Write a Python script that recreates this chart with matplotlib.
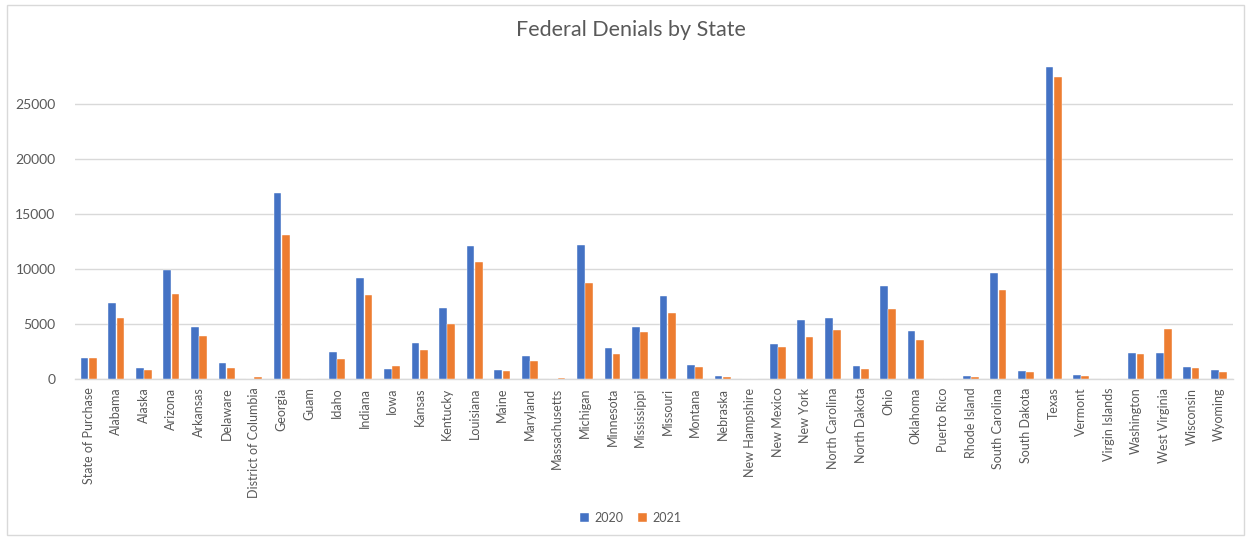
import matplotlib
matplotlib.use("Agg")
import matplotlib.pyplot as plt
import numpy as np
from matplotlib.patches import Rectangle

states = ["State of Purchase", "Alabama", "Alaska", "Arizona", "Arkansas", "Delaware",
          "District of Columbia", "Georgia", "Guam", "Idaho", "Indiana", "Iowa", "Kansas",
          "Kentucky", "Louisiana", "Maine", "Maryland", "Massachusetts", "Michigan",
          "Minnesota", "Mississippi", "Missouri", "Montana", "Nebraska", "New Hampshire",
          "New Mexico", "New York", "North Carolina", "North Dakota", "Ohio", "Oklahoma",
          "Puerto Rico", "Rhode Island", "South Carolina", "South Dakota", "Texas",
          "Vermont", "Virgin Islands", "Washington", "West Virginia", "Wisconsin", "Wyoming"]

y2020 = [1950, 6900, 1030, 9950, 4790, 1450, 0, 16930, 0, 2480, 9240, 940, 3270,
         6510, 12090, 850, 2150, 0, 12180, 2850, 4780, 7550, 1330, 330, 0,
         3180, 5390, 5600, 1240, 8450, 4390, 0, 330, 9640, 750, 28360,
         420, 0, 2360, 2360, 1150, 850]
y2021 = [1950, 5570, 850, 7730, 3970, 1030, 170, 13090, 0, 1850, 7640, 1240, 2660,
         5000, 10660, 750, 1660, 140, 8730, 2270, 4300, 6000, 1150, 240, 0,
         2960, 3870, 4480, 940, 6390, 3570, 0, 240, 8120, 640, 27450,
         330, 0, 2270, 4570, 1030, 640]

yticks = [0, 5000, 10000, 15000, 20000, 25000]
series_names = ["2020", "2021"]
colors = ["#4472C4", "#ED7D31"]

plt.rcParams['font.family'] = ['Lato', 'DejaVu Sans']

fig = plt.figure(figsize=(12.49, 5.38), dpi=100)
ax = fig.add_axes([0.060, 0.295, 0.927, 0.614])

x = np.arange(len(states))
w = 0.28
ax.bar(x - w/2 - 0.01, y2020, width=w, color=colors[0], edgecolor="white", linewidth=0.3,
       label=series_names[0], zorder=3)
ax.bar(x + w/2 + 0.01, y2021, width=w, color=colors[1], edgecolor="white", linewidth=0.3,
       label=series_names[1], zorder=3)

ax.set_xlim(-0.5, len(states) - 0.5)
ax.set_ylim(0, 30000)
ax.set_yticks(yticks)
ax.set_yticklabels([str(v) for v in yticks], fontsize=10, color="#595959")
ax.set_xticks(x)
ax.set_xticklabels(states, rotation=90, fontsize=9, color="#595959")
ax.tick_params(axis='both', length=0, pad=6)
ax.tick_params(axis='y', pad=14)
ax.grid(axis='y', color="#D9D9D9", linewidth=1.0, zorder=0)
for s in ["top", "right", "left"]:
    ax.spines[s].set_visible(False)
ax.spines["bottom"].set_color("#D9D9D9")
ax.spines["bottom"].set_linewidth(1.0)

fig.text(0.505, 0.945, "Federal Denials by State", ha="center", va="center",
         fontsize=15.5, color="#595959")

leg = fig.legend(loc="center", bbox_to_anchor=(0.505, 0.037), ncol=2, frameon=False,
                 fontsize=9, handlelength=0.7, handleheight=0.7, handletextpad=0.4,
                 columnspacing=1.2)
for t in leg.get_texts():
    t.set_color("#595959")

fig.patches.append(Rectangle((0.006, 0.005), 0.99, 0.985, transform=fig.transFigure,
                             fill=False, edgecolor="#D9D9D9", linewidth=1.0))

fig.savefig("out.png", dpi=100, facecolor="white")
